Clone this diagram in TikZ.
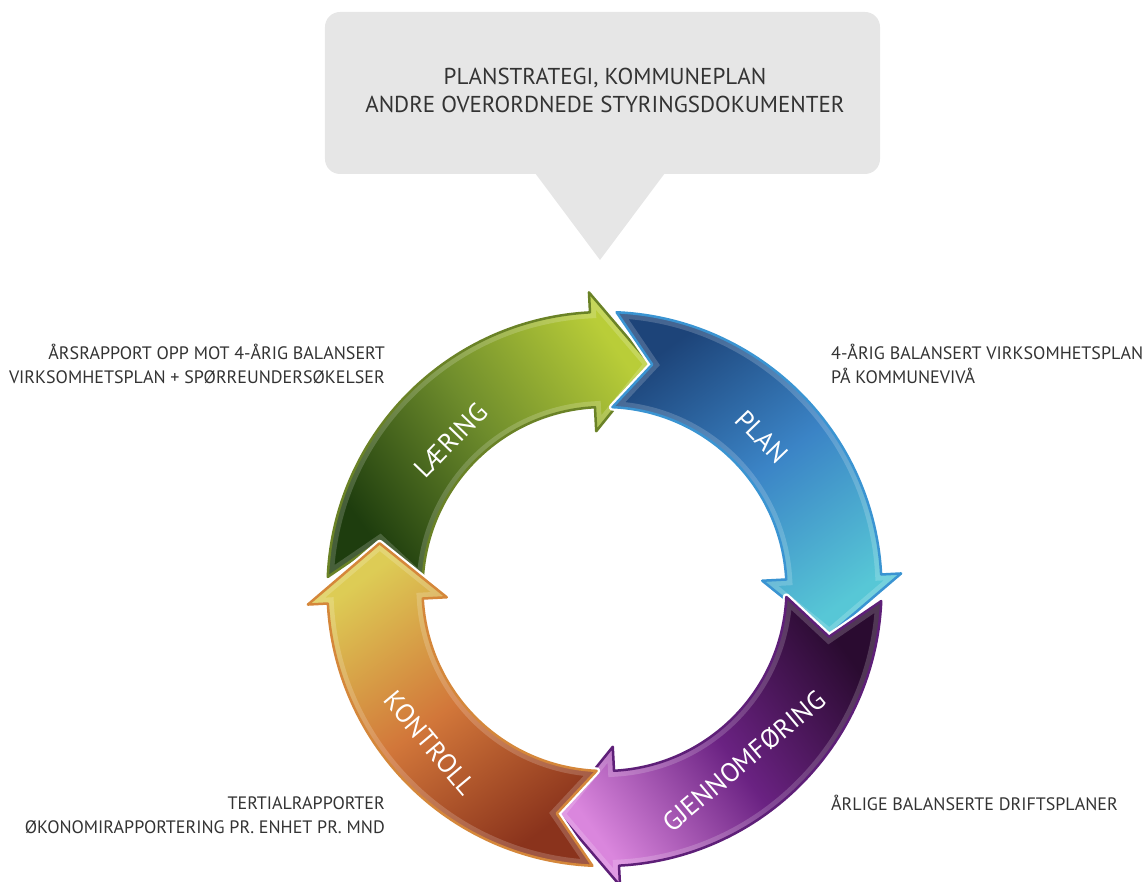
\documentclass[tikz,border=0pt]{standalone}
\usepackage{fontspec}
\setmainfont{PT Sans}
\usepackage{tikz}
\usetikzlibrary
  {
    positioning,              % place nodes relative to other nodes
    calc,
  }

\definecolor{learndark}{HTML}{1E3D0E}
\definecolor{learnmid}{HTML}{6E8C2C}
\definecolor{learnlight}{HTML}{B9CD38}
\definecolor{learnrim}{HTML}{6A8226}
\definecolor{plandark}{HTML}{1D4479}
\definecolor{planmid}{HTML}{3B84C6}
\definecolor{planlight}{HTML}{57C7D6}
\definecolor{planrim}{HTML}{3A94D2}
\definecolor{dodark}{HTML}{2A0B30}
\definecolor{domid}{HTML}{6A2282}
\definecolor{dolight}{HTML}{DA86DD}
\definecolor{dorim}{HTML}{5E1F78}
\definecolor{checkdark}{HTML}{8A331C}
\definecolor{checkmid}{HTML}{D2773A}
\definecolor{checklight}{HTML}{DDCC55}
\definecolor{checkrim}{HTML}{D5873A}
\definecolor{notegray}{HTML}{333333}
\definecolor{calloutgray}{HTML}{E6E6E6}

\begin{document}
\begin{tikzpicture}
    [
      x=1pt, y=1pt,
      ring arrow/.style=
        {
          insert path=
            {
              ({#1-2.5}:277pt)
              arc [start angle={#1-2.5}, end angle={#1-87}, radius=277pt]
              -- ({#1-87}:297pt) -- ({#1-101.5}:229.5pt) -- ({#1-87}:158pt)
              -- ({#1-87}:182pt)
              arc [start angle={#1-87}, end angle={#1-2.5}, radius=182pt]
              -- ({#1-12}:229.5pt) -- cycle
            },
        },
      callout text/.style=
        {
          text=notegray,
          align=center,
          font=\fontsize{23}{28}\selectfont,
        },
      side note/.style=
        {
          text=notegray,
          inner sep=0pt,
          font=\fontsize{18}{24}\selectfont,
        },
      stage label/.style=
        {
          text=white,
          inner sep=0pt,
          font=\fontsize{26.5}{26.5}\selectfont,
        },
    ]
    \useasboundingbox (-604.5,-292) rectangle (540.5,589);

    % speech bubble at the top
    \fill[calloutgray, rounded corners=15pt] (-279.5,415) rectangle (275.5,577);
    \coordinate (pointer) at (-4.5,329);
    \fill[calloutgray] (-69.5,416) -- (60.5,416) -- (pointer) -- cycle;
    \node[callout text] (header) at (0.5,499)
      {PLANSTRATEGI, KOMMUNEPLAN\\ANDRE OVERORDNEDE STYRINGSDOKUMENTER};

    % the four stages of the cycle
    \foreach \start/\shadeangle/\tailc/\midc/\headc/\rimc in
      {
        180/-54/learndark/learnmid/learnlight/learnrim,
        90/-144/plandark/planmid/planlight/planrim,
        0/126/dodark/domid/dolight/dorim,
        -90/36/checkdark/checkmid/checklight/checkrim%
      }
      {
        \path[ring arrow=\start, draw=white, line width=7pt, line join=round];
        \shade[ring arrow=\start, bottom color=\tailc, top color=\headc,
               middle color=\midc, shading angle=\shadeangle];
        \begin{scope}
          \clip[ring arrow=\start];
          \draw[ring arrow=\start, white, opacity=.18, line width=12pt];
        \end{scope}
        \draw[ring arrow=\start, draw=\rimc, line width=2.5pt, line join=round];
      }

    \node[stage label, rotate=46]  (learning)  at (-153.5,149)  {LÆRING};
    \node[stage label, rotate=-46] (planning)  at (157.5,152)   {PLAN};
    \node[stage label, rotate=40]  (execution) at (139.5,-172)  {GJENNOMFØRING};
    \node[stage label, rotate=-50] (control)   at (-174.5,-154) {KONTROLL};

    \node[side note, anchor=east, align=right] (learning note) at (-219.5,225)
      {ÅRSRAPPORT OPP MOT 4-ÅRIG BALANSERT\\VIRKSOMHETSPLAN + SPØRREUNDERSØKELSER};
    \node[side note, anchor=west, align=left] (planning note) at (226.5,225)
      {4-ÅRIG BALANSERT VIRKSOMHETSPLAN\\PÅ KOMMUNEVIVÅ};
    \node[side note, anchor=east, align=right] (control note) at (-219.5,-226)
      {TERTIALRAPPORTER\\ØKONOMIRAPPORTERING PR. ENHET PR. MND};
    \node[side note, anchor=west] (execution note) at (226.5,-214)
      {ÅRLIGE BALANSERTE DRIFTSPLANER};
\end{tikzpicture}
\end{document}
